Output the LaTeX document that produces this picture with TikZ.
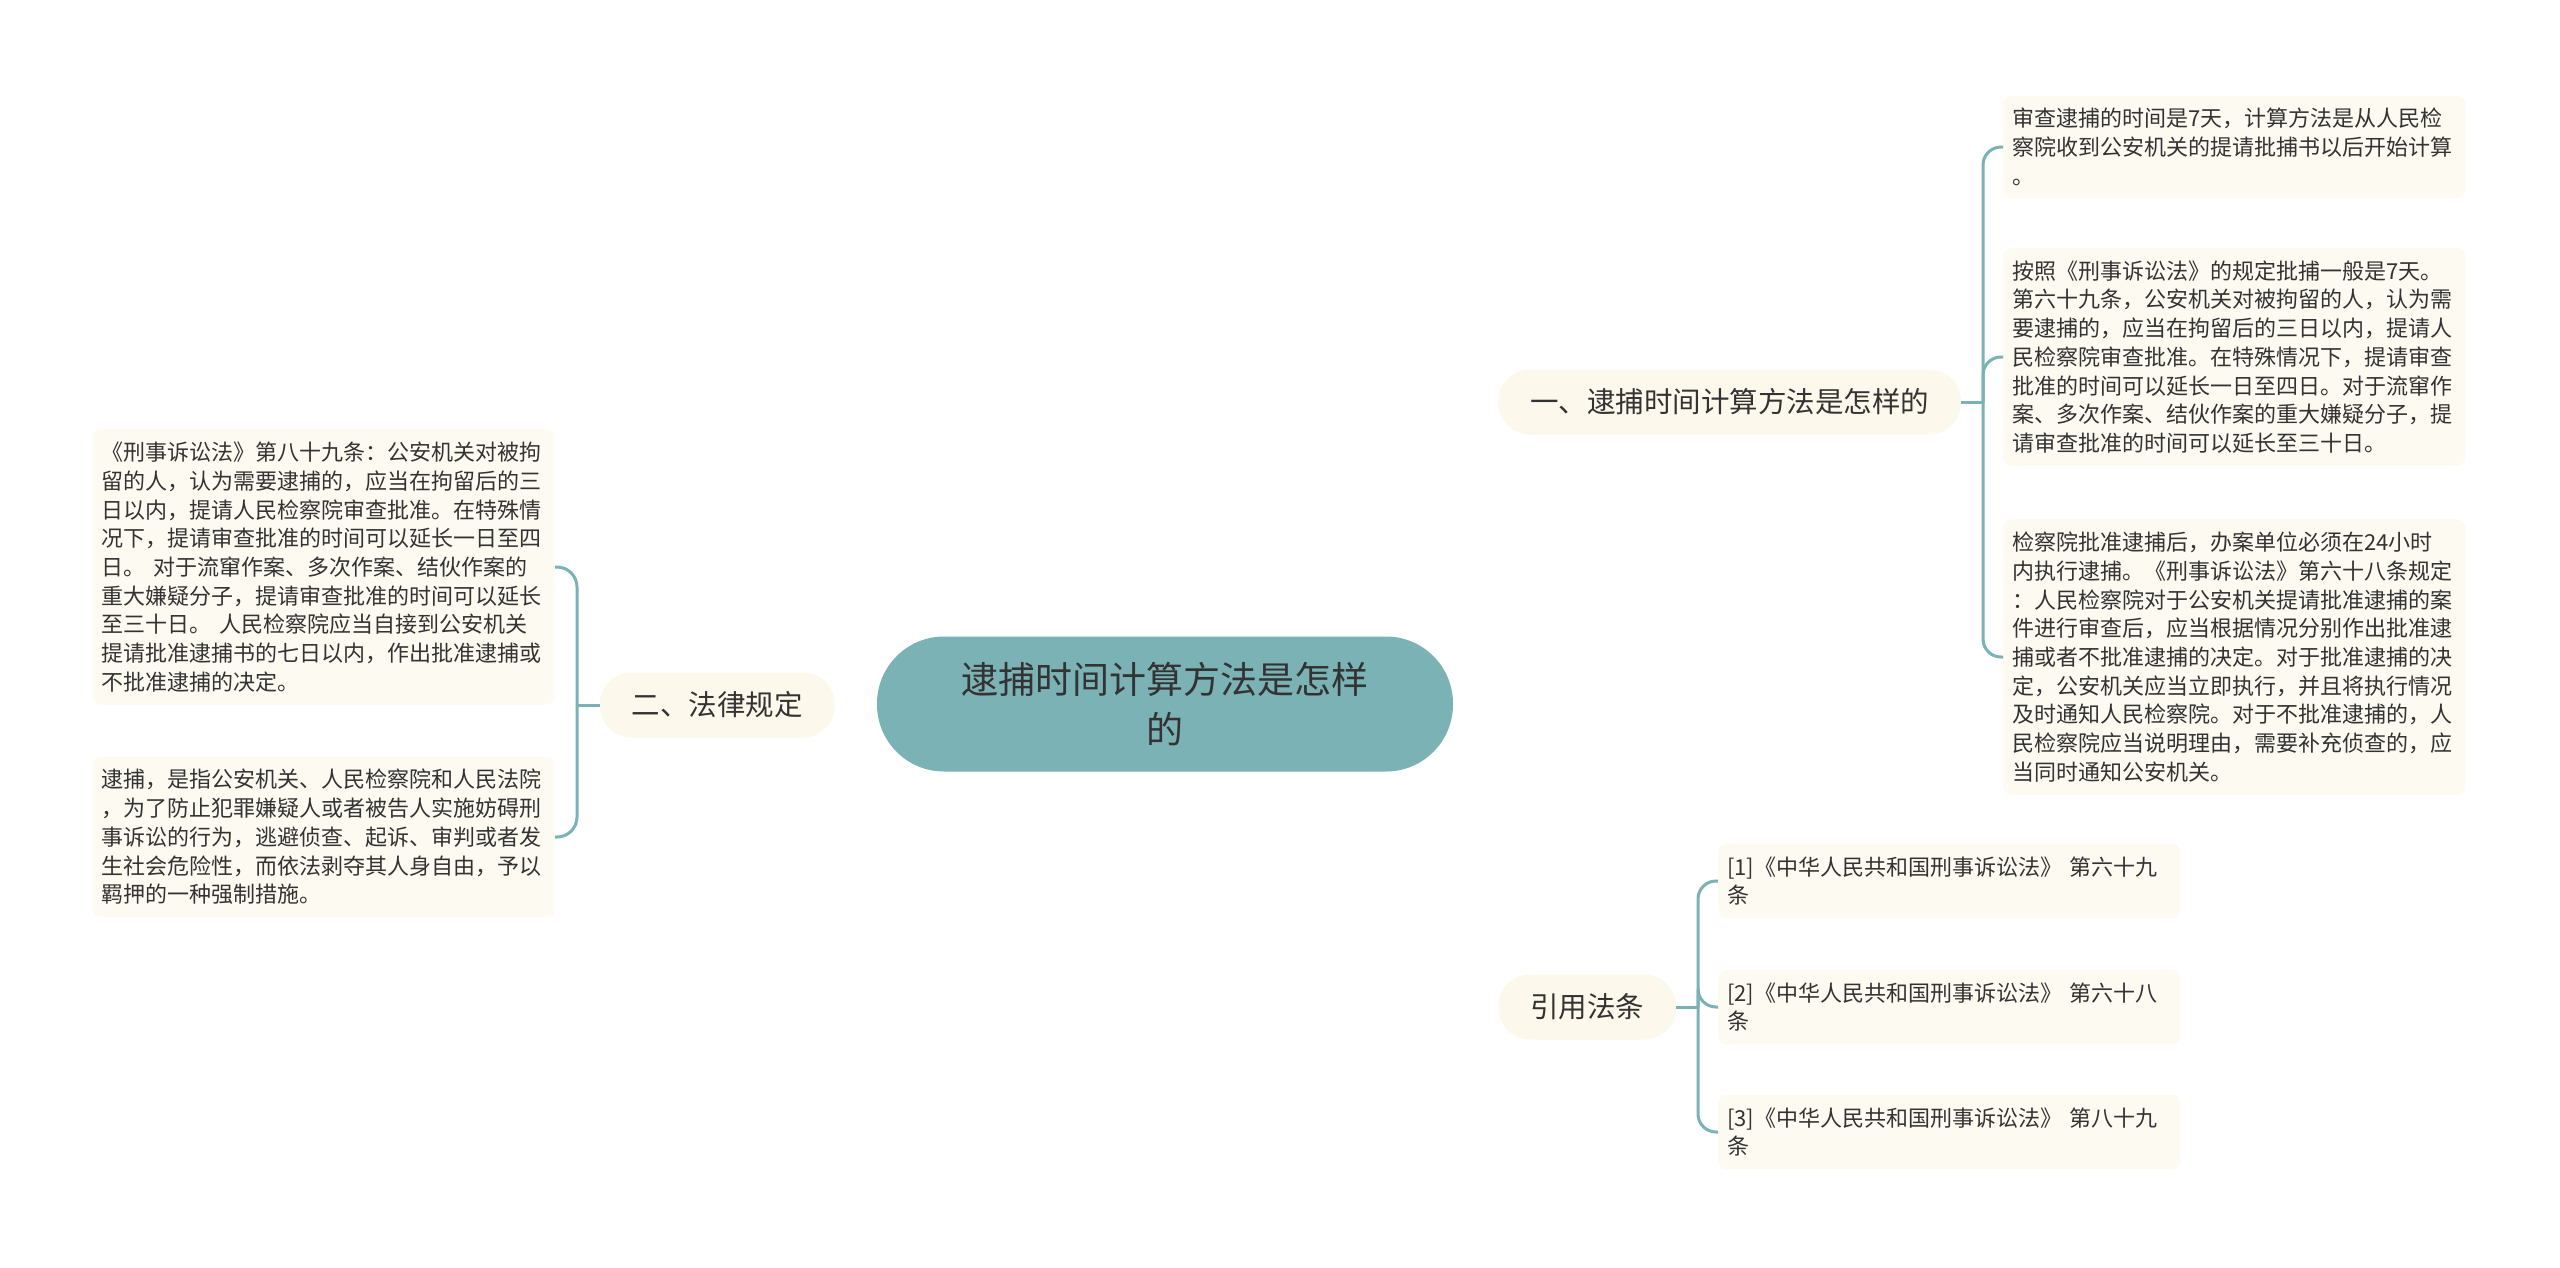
\documentclass[tikz,border=0pt]{standalone}
\usepackage{fontspec}
\setmainfont{Noto Sans CJK SC}
\usepackage{xcolor}
\usetikzlibrary{backgrounds}

\definecolor{mapteal}{HTML}{7BB2B5}
\definecolor{branchfill}{HTML}{FCF8EC}
\definecolor{leaffill}{HTML}{FDFAF2}
\definecolor{inktext}{HTML}{333333}

\tikzset{
    rootbox/.style={fill=mapteal, rounded corners=67pt, minimum width=576pt, minimum height=135pt,
        align=center, text=inktext, font=\fontsize{37}{50.6}\selectfont},
    branchbox/.style={fill=branchfill, rounded corners=32pt, inner xsep=32pt, minimum height=65pt,
        text=inktext, font=\fontsize{28.5}{34}\selectfont},
    leafbox/.style={fill=leaffill, rounded corners=8pt, text width=444pt, inner xsep=9pt, inner ysep=12.5pt,
        align=left, text=inktext, font=\fontsize{22}{28.7}\selectfont},
    link/.style={draw=mapteal, line width=3pt},
}

\begin{document}
\begin{tikzpicture}[x=1pt, y=-1pt]

        \useasboundingbox (0,0) rectangle (2560,1267);
        \fill[white] (0,0) rectangle (2560,1267);

        \def\methodx{2003}
        \def\citex{1718}
        \def\lawx{555}

        \node[rootbox] (root) at (1165,704) {逮捕时间计算方法是怎样\\的};

        \node[branchbox, anchor=west] (method) at (1498,402) {一、逮捕时间计算方法是怎样的};
        \node[branchbox, anchor=west] (cite) at (1498,1007) {引用法条};
        \node[branchbox, anchor=east] (law) at (835,705) {二、法律规定};

        \node[leafbox, anchor=west] (m1) at (\methodx,147) {审查逮捕的时间是7天，计算方法是从人民检\\察院收到公安机关的提请批捕书以后开始计算\\。};
        \node[leafbox, anchor=west] (m2) at (\methodx,357) {按照《刑事诉讼法》的规定批捕一般是7天。\\第六十九条，公安机关对被拘留的人，认为需\\要逮捕的，应当在拘留后的三日以内，提请人\\民检察院审查批准。在特殊情况下，提请审查\\批准的时间可以延长一日至四日。对于流窜作\\案、多次作案、结伙作案的重大嫌疑分子，提\\请审查批准的时间可以延长至三十日。};
        \node[leafbox, anchor=west] (m3) at (\methodx,657) {检察院批准逮捕后，办案单位必须在24小时\\内执行逮捕。《刑事诉讼法》第六十八条规定\\：人民检察院对于公安机关提请批准逮捕的案\\件进行审查后，应当根据情况分别作出批准逮\\捕或者不批准逮捕的决定。对于批准逮捕的决\\定，公安机关应当立即执行，并且将执行情况\\及时通知人民检察院。对于不批准逮捕的，人\\民检察院应当说明理由，需要补充侦查的，应\\当同时通知公安机关。};

        \node[leafbox, anchor=west] (c1) at (\citex,881) {[1]《中华人民共和国刑事诉讼法》~第六十九\\条};
        \node[leafbox, anchor=west] (c2) at (\citex,1007) {[2]《中华人民共和国刑事诉讼法》~第六十八\\条};
        \node[leafbox, anchor=west] (c3) at (\citex,1132) {[3]《中华人民共和国刑事诉讼法》~第八十九\\条};

        \node[leafbox, anchor=east] (l1) at (\lawx,567) {《刑事诉讼法》第八十九条：公安机关对被拘\\留的人，认为需要逮捕的，应当在拘留后的三\\日以内，提请人民检察院审查批准。在特殊情\\况下，提请审查批准的时间可以延长一日至四\\日。~对于流窜作案、多次作案、结伙作案的\\重大嫌疑分子，提请审查批准的时间可以延长\\至三十日。~人民检察院应当自接到公安机关\\提请批准逮捕书的七日以内，作出批准逮捕或\\不批准逮捕的决定。};
        \node[leafbox, anchor=east] (l2) at (\lawx,837) {逮捕，是指公安机关、人民检察院和人民法院\\，为了防止犯罪嫌疑人或者被告人实施妨碍刑\\事诉讼的行为，逃避侦查、起诉、审判或者发\\生社会危险性，而依法剥夺其人身自由，予以\\羁押的一种强制措施。};

        \begin{scope}[on background layer]
            \draw[link] (root.center) .. controls (1165,402) .. (method.west);
            \draw[link] (root.center) .. controls (1165,1007) .. (cite.west);
            \draw[link] (root.center) -- (law.east);
        \end{scope}

        \coordinate (mspine) at (1983,402);
        \coordinate (cspine) at (1698,1007);
        \coordinate (lspine) at (577,705);

        \draw[link] (method.east) -- (mspine);
        \draw[link] (cite.east) -- (cspine);
        \draw[link] (law.west) -- (lspine);

        \foreach \leaf in {m1, m2, m3} {
                \draw[link, rounded corners=18pt] (mspine) |- (\leaf.west);
            }
        \foreach \leaf in {c1, c2, c3} {
                \draw[link, rounded corners=18pt] (cspine) |- (\leaf.west);
            }
        \foreach \leaf in {l1, l2} {
                \draw[link, rounded corners=20pt] (lspine) |- (\leaf.east);
            }

    \end{tikzpicture}
\end{document}
